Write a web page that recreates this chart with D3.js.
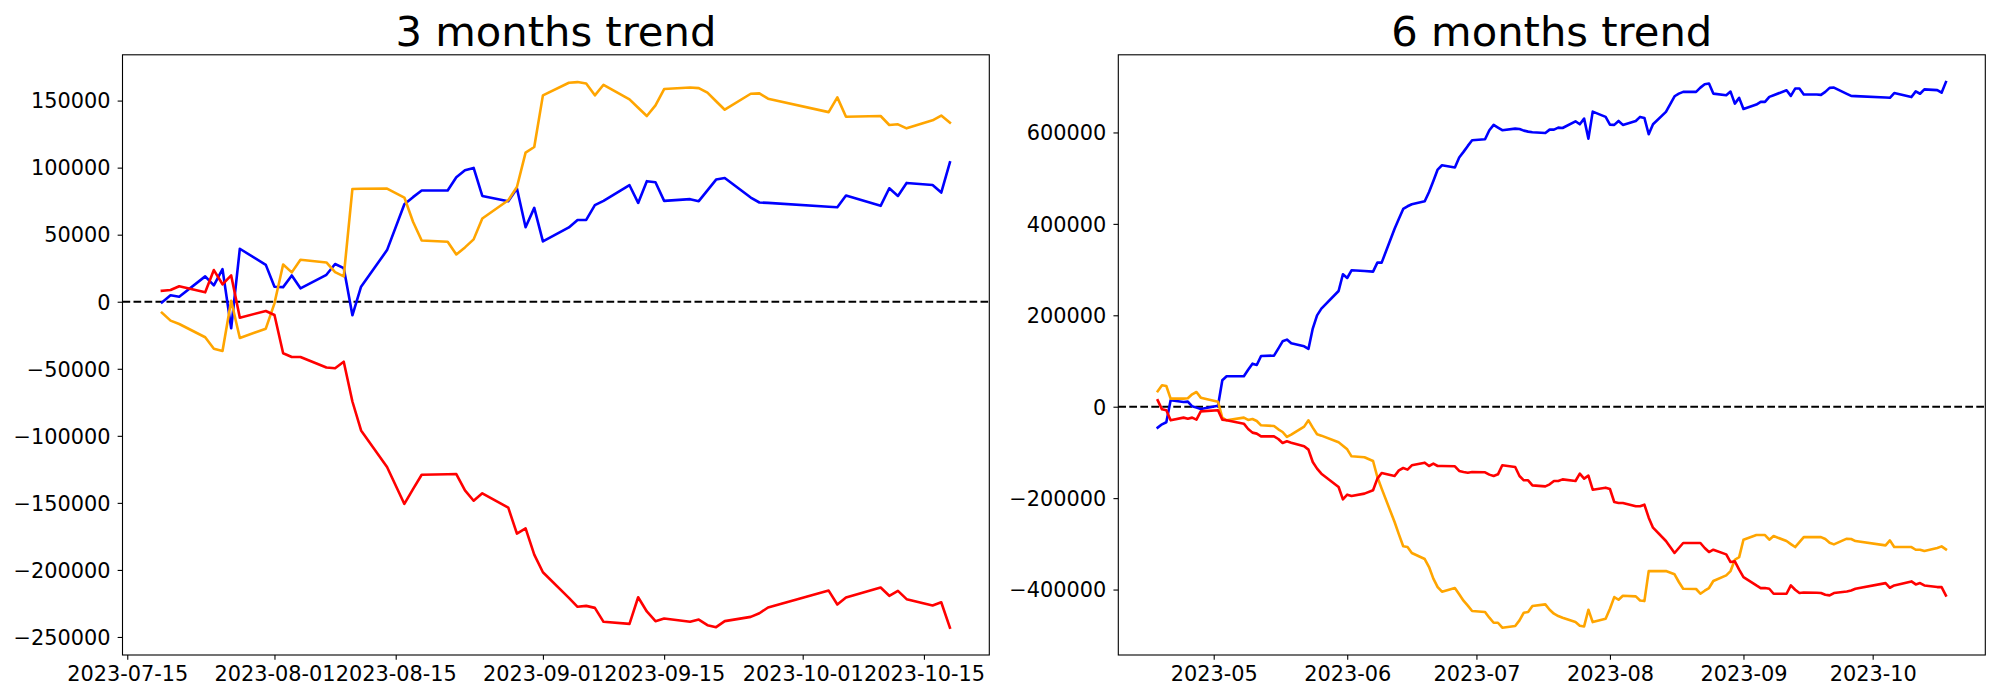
<!DOCTYPE html>
<html>
<head>
<meta charset="utf-8">
<script src="https://cdn.jsdelivr.net/npm/d3@7"></script>
<style>
  html, body { margin: 0; padding: 0; background: #fff; }
  svg { display: block; }
</style>
</head>
<body>
<svg id="chart" width="2000" height="700"></svg>
<script>
// ---------- DATA ----------
// 3 months (2023)
const leftDates = ["07-19","07-20","07-21","07-24","07-25","07-26","07-27","07-28","07-31",
  "08-01","08-02","08-03","08-04","08-07","08-08","08-09","08-10","08-11","08-14","08-16","08-17","08-18","08-21","08-22","08-23","08-24","08-25","08-28","08-29","08-30","08-31",
  "09-01","09-04","09-05","09-06","09-07","09-08","09-11","09-12","09-13","09-14","09-15","09-18","09-19","09-20","09-21","09-22","09-25","09-26","09-27",
  "10-04","10-05","10-06","10-10","10-11","10-12","10-13","10-16","10-17","10-18"];
const leftBlue = [-500,4800,3700,18900,12200,24300,-19800,39500,27500,
  11200,10900,19600,10000,20100,28100,25100,-10100,11200,38500,72700,78000,82900,82900,92800,98000,99800,78900,75000,84400,55600,70000,
  45000,55400,61000,61000,72000,75200,86900,73700,89900,89100,75200,76500,75000,83000,91100,92300,77700,74000,73700,
  70800,70500,79200,71500,84600,78900,88600,87100,81400,104000];
const leftOrange = [-8200,-14100,-16600,-26500,-35000,-36700,700,-27000,-20100,
  -1200,27800,21900,31300,29300,22100,18900,84100,84300,84400,77700,59600,45700,44700,35300,40500,46500,62100,75700,85600,111200,115400,
  153900,163300,163800,162800,153900,161800,150900,144700,138500,146400,158600,159800,159300,155900,149500,143200,155100,155400,151400,
  141400,152400,138000,138500,131800,132300,129300,135300,138800,133600];
const leftRed = [8200,8700,11500,7000,23600,13000,19600,-11900,-6900,
  -9900,-38400,-41200,-41200,-49100,-49600,-44700,-74400,-96000,-123300,-150800,-139700,-129000,-128700,-128500,-140700,-148400,-142900,-153600,-172900,-169000,-188600,
  -201700,-220800,-227500,-226800,-228300,-238700,-240200,-220400,-231000,-238200,-236200,-238700,-237000,-241200,-242700,-238200,-235000,-232300,-228000,
  -215400,-225800,-220600,-213100,-219300,-215600,-221800,-226500,-224100,-243100];

// 6 months (2023)
const rightDates = ["04-18","04-19","04-20","04-21","04-24","04-25","04-26","04-27","04-28",
  "05-02","05-03","05-04","05-08","05-09","05-10","05-11","05-12","05-15","05-16","05-17","05-18","05-19","05-22","05-23","05-24","05-25","05-26","05-30","05-31",
  "06-01","06-02","06-05","06-07","06-08","06-09","06-12","06-13","06-14","06-15","06-16","06-19","06-20","06-21","06-22","06-23","06-26","06-27","06-28","06-29","06-30",
  "07-03","07-04","07-05","07-06","07-07","07-10","07-11","07-12","07-13","07-14","07-17","07-18","07-19","07-20","07-21","07-24","07-25","07-26","07-27","07-28","07-31",
  "08-01","08-02","08-03","08-04","08-07","08-08","08-09","08-10","08-11","08-14","08-16","08-17","08-18","08-21","08-22","08-23","08-24","08-25","08-28","08-29","08-30","08-31",
  "09-01","09-04","09-05","09-06","09-07","09-08","09-11","09-12","09-13","09-14","09-15","09-18","09-19","09-20","09-21","09-22","09-25","09-26","09-27",
  "10-04","10-05","10-06","10-10","10-11","10-12","10-13","10-16","10-17","10-18"];
const rightBlue = [-45800,-38500,-34100,14000,10400,11100,900,-2000,-4900,
  2000,57900,66600,66600,81000,94200,91300,111000,111800,127100,143100,146800,138700,132200,126400,170900,199900,214500,253200,289700,
  281600,298400,297000,295500,315200,315200,389500,411400,432700,438500,442900,449500,469900,494000,518800,528300,523200,545100,557500,570600,583000,
  585200,604900,616600,610700,604900,608300,607700,604000,601800,600300,598900,606200,606200,610500,609800,624400,617900,630300,586500,645600,634000,
  617200,616500,625200,616500,625200,634000,631800,596000,617900,644900,679200,685000,688700,688700,698100,705400,706900,685000,681400,689400,663100,675600,
  651500,661000,666800,666800,677800,681400,692400,680000,696000,696000,682900,682900,682200,688700,697500,698200,684400,679900,679500,
  676600,675900,686100,677400,689800,684700,694200,692700,686900,710200];
const rightOrange = [33700,46800,45400,17700,17700,18400,27100,32200,19800,
  11000,-24100,-29800,-23900,-29000,-26800,-31200,-40700,-42200,-49500,-55300,-66200,-61100,-43600,-29800,-45800,-60400,-63300,-77900,-85200,
  -93200,-108500,-110700,-118700,-153800,-179300,-252300,-279200,-305400,-306900,-320000,-333200,-350700,-376200,-394500,-404700,-396700,-410400,-424300,-435300,-446900,
  -449000,-461600,-472600,-472600,-483500,-479800,-467500,-450700,-449300,-436100,-432400,-444100,-452900,-458000,-461700,-471200,-479200,-480700,-444100,-471200,-463900,
  -442000,-416500,-422300,-413600,-415000,-423800,-425200,-359600,-359600,-359600,-366700,-383500,-398100,-398800,-409100,-402500,-396700,-381300,-368900,-359600,-334800,-329000,
  -291000,-280800,-280800,-280800,-291000,-283000,-293900,-300500,-307000,-296100,-285200,-285200,-285200,-289500,-297600,-301200,-288700,-289500,-293900,
  -303400,-292400,-307000,-307000,-312900,-312900,-315800,-309200,-305600,-312100];
const rightRed = [14000,-5700,-7900,-29800,-23900,-26100,-23900,-28300,-10100,
  -7900,-28300,-29800,-37100,-48700,-56700,-58900,-64800,-64800,-70600,-79300,-75700,-78600,-86600,-93900,-120900,-135500,-146500,-175600,-202600,
  -192400,-195300,-190200,-182900,-157400,-145000,-151600,-139200,-134100,-137700,-128200,-122400,-129700,-124600,-129700,-129700,-130400,-140600,-142800,-144300,-142800,
  -143500,-148600,-151600,-147900,-128200,-131900,-151600,-161000,-161000,-172000,-174200,-169800,-162500,-162500,-158900,-162500,-146500,-157400,-150800,-181500,-177100,
  -180000,-208400,-210600,-210600,-217900,-217900,-214300,-242700,-264600,-293800,-320000,-309100,-298200,-298200,-298200,-309100,-317900,-312800,-323000,-339800,-338300,-356600,
  -372700,-391000,-396800,-396800,-398300,-409200,-409200,-391000,-400400,-407700,-406300,-407000,-407700,-411400,-412800,-407700,-404100,-401900,-398300,
  -385900,-396100,-391000,-382200,-388800,-385900,-391000,-394600,-394600,-412800];

const leftYTicks = [-250000,-200000,-150000,-100000,-50000,0,50000,100000,150000];
const rightYTicks = [-400000,-200000,0,200000,400000,600000];
const leftXTicks = ["2023-07-15","2023-08-01","2023-08-15","2023-09-01","2023-09-15","2023-10-01","2023-10-15"];
const rightXTicks = ["2023-05","2023-06","2023-07","2023-08","2023-09","2023-10"];
const titles = ["3 months trend", "6 months trend"];
const seriesColors = ["blue", "orange", "red"];

// ---------- DRAW ----------
const svg = d3.select("#chart");
svg.append("rect").attr("width", 2000).attr("height", 700).attr("fill", "#fff");
const FONT = "DejaVu Sans, Verdana, sans-serif";
const parseDay = d3.utcParse("%Y-%m-%d");
const parseMonth = d3.utcParse("%Y-%m");
const TOP = 54.8, BOTTOM = 655;

function panel(cfg) {
  const dates = cfg.dates.map(s => parseDay("2023-" + s));
  const series = cfg.series;
  const t0 = +dates[0], t1 = +dates[dates.length - 1];
  const tp = (t1 - t0) * 0.05;
  const x = d3.scaleUtc().domain([new Date(t0 - tp), new Date(t1 + tp)]).range([cfg.x0, cfg.x1]);
  const all = series.flat();
  const vmin = d3.min(all), vmax = d3.max(all), vp = (vmax - vmin) * 0.05;
  const y = d3.scaleLinear().domain([vmin - vp, vmax + vp]).range([BOTTOM, TOP]);

  const g = svg.append("g");

  // zero dashed line
  g.append("line")
    .attr("x1", cfg.x0).attr("x2", cfg.x1)
    .attr("y1", y(0)).attr("y2", y(0))
    .attr("stroke", "#000").attr("stroke-width", 2.08)
    .attr("stroke-dasharray", "7.7,3.3");

  const line = d3.line().x((d, i) => x(dates[i])).y(d => y(d));
  series.forEach((s, k) => {
    g.append("path").datum(s)
      .attr("d", line)
      .attr("fill", "none")
      .attr("stroke", seriesColors[k])
      .attr("stroke-width", 2.6)
      .attr("stroke-linejoin", "round")
      .attr("stroke-linecap", "square");
  });

  // axes
  const xAxis = d3.axisBottom(x).tickValues(cfg.xTicks).tickFormat(cfg.xFmt).tickSize(4.86).tickSizeOuter(0);
  const gx = g.append("g").attr("transform", `translate(0,${BOTTOM})`).call(xAxis);
  gx.select(".domain").remove();
  gx.selectAll(".tick line").attr("stroke", "#000").attr("stroke-width", 1.1);
  gx.selectAll(".tick text").attr("y", 25.5).attr("dy", 0)
    .attr("fill", "#000").style("font-family", FONT).style("font-size", "20.83px");

  const yAxis = d3.axisLeft(y).tickValues(cfg.yTicks)
    .tickFormat(v => (v < 0 ? "\u2212" : "") + Math.abs(v)).tickSize(4.86).tickSizeOuter(0);
  const gy = g.append("g").attr("transform", `translate(${cfg.x0},0)`).call(yAxis);
  gy.select(".domain").remove();
  gy.selectAll(".tick line").attr("stroke", "#000").attr("stroke-width", 1.1);
  gy.selectAll(".tick text").attr("x", -12).attr("dy", "0.35em")
    .attr("fill", "#000").style("font-family", FONT).style("font-size", "20.83px");

  // spines
  g.append("rect")
    .attr("x", cfg.x0).attr("y", TOP)
    .attr("width", cfg.x1 - cfg.x0).attr("height", BOTTOM - TOP)
    .attr("fill", "none").attr("stroke", "#000").attr("stroke-width", 1.1);

  // title
  g.append("text")
    .attr("x", (cfg.x0 + cfg.x1) / 2).attr("y", TOP - 8.33)
    .attr("text-anchor", "middle")
    .style("font-family", FONT).style("font-size", "41.67px")
    .attr("fill", "#000")
    .text(cfg.title);
}

panel({
  x0: 122.5, x1: 989.3, dates: leftDates,
  series: [leftBlue, leftOrange, leftRed],
  xTicks: leftXTicks.map(parseDay), xFmt: d3.utcFormat("%Y-%m-%d"),
  yTicks: leftYTicks, title: titles[0]
});
panel({
  x0: 1118.3, x1: 1985.3, dates: rightDates,
  series: [rightBlue, rightOrange, rightRed],
  xTicks: rightXTicks.map(parseMonth), xFmt: d3.utcFormat("%Y-%m"),
  yTicks: rightYTicks, title: titles[1]
});
</script>
</body>
</html>
